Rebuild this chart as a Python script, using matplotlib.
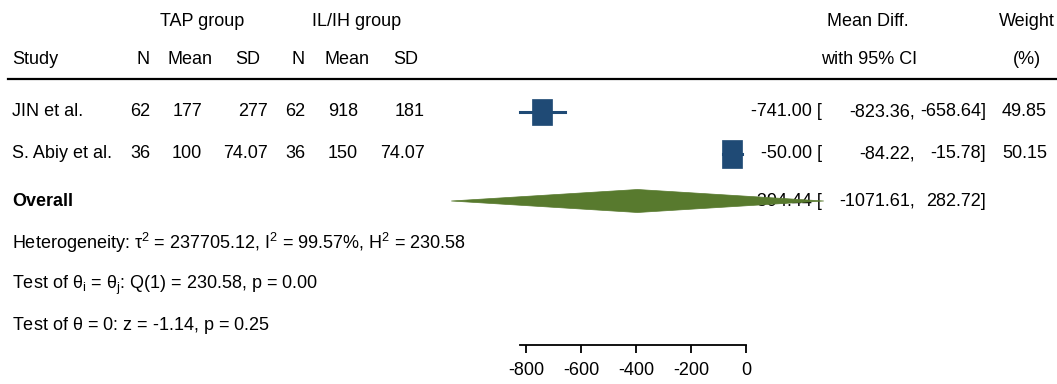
import matplotlib
matplotlib.use("Agg")
import matplotlib.pyplot as plt
from matplotlib import font_manager as fm
from matplotlib.patches import Rectangle, Polygon

# ---- data ----
studies = ["JIN et al.", "S. Abiy et al."]
tap_n = [62, 36]
tap_mean = ["177", "100"]
tap_sd = ["277", "74.07"]
il_n = [62, 36]
il_mean = ["918", "150"]
il_sd = ["181", "74.07"]
md = [-741.00, -50.00]
ci_lo = [-823.36, -84.22]
ci_hi = [-658.64, -15.78]
weights = [49.85, 50.15]
overall = (-394.44, -1071.61, 282.72)
het_text = r"Heterogeneity: $\mathregular{\tau^2}$ = 237705.12, $\mathregular{I^2}$ = 99.57%, $\mathregular{H^2}$ = 230.58"
test1_text = r"Test of $\mathregular{\theta_i}$ = $\mathregular{\theta_j}$: Q(1) = 230.58, p = 0.00"
test2_text = r"Test of $\mathregular{\theta}$ = 0: z = -1.14, p = 0.25"
xticks = [-800, -600, -400, -200, 0]

names = {f.name for f in fm.fontManager.ttflist}
FONT = "Liberation Sans Narrow" if "Liberation Sans Narrow" in names else "Liberation Sans"
plt.rcParams["font.family"] = [FONT, "DejaVu Sans"]
plt.rcParams["mathtext.fontset"] = "custom"
plt.rcParams["mathtext.rm"] = FONT
plt.rcParams["mathtext.it"] = FONT
FS = 16.0 if FONT == "Liberation Sans Narrow" else 13.0

W, H = 1057, 384
fig = plt.figure(figsize=(W / 100, H / 100), dpi=100)
axis_y = 345
ax = fig.add_axes([0, (H - axis_y) / H, 1, axis_y / H])
# x scale: 0 at pixel 746, 0.275 px per unit
ppu = 0.275
x0 = 746
ax.set_xlim(-x0 / ppu, (W - x0) / ppu)
ax.set_ylim(axis_y, 0)
for s in ["top", "right", "left"]:
    ax.spines[s].set_visible(False)
ax.spines["bottom"].set_bounds(min(ci_lo), 0)
ax.spines["bottom"].set_linewidth(1.3)
ax.set_yticks([])
ax.set_xticks(xticks)
ax.set_xticklabels([str(t) for t in xticks], fontsize=FS)
ax.tick_params(axis="x", length=6, width=1.3, pad=6)

def px(xp):
    return (xp - x0) / ppu

def txt(xp, y, s, ha="right", **kw):
    ax.text(px(xp), y, s, ha=ha, va="center", fontsize=FS, clip_on=False, **kw)

# header
txt(202, 22, "TAP group", ha="center")
txt(357, 22, "IL/IH group", ha="center")
txt(868, 22, "Mean Diff.", ha="center")
txt(1027, 22, "Weight", ha="center")
y_h = 60
txt(12, y_h, "Study", ha="left")
txt(150, y_h, "N")
txt(190, y_h, "Mean", ha="center")
txt(260, y_h, "SD")
txt(305, y_h, "N")
txt(347, y_h, "Mean", ha="center")
txt(418, y_h, "SD")
txt(869, y_h, "with 95% CI", ha="center")
txt(1027, y_h, "(%)", ha="center")
ax.plot([px(8), px(W)], [79, 79], color="black", lw=1.6, clip_on=False)

row_y = [112 + 42 * i for i in range(len(studies))]
for i, y in enumerate(row_y):
    txt(12, y, studies[i], ha="left")
    txt(150, y, str(tap_n[i]))
    txt(202, y, tap_mean[i])
    txt(268, y, tap_sd[i])
    txt(305, y, str(il_n[i]))
    txt(358, y, il_mean[i])
    txt(425, y, il_sd[i])
    txt(822, y, f"{md[i]:.2f} [")
    txt(915, y, f"{ci_lo[i]:.2f},")
    txt(986, y, f"{ci_hi[i]:.2f}]")
    txt(1047, y, f"{weights[i]:.2f}")
    ax.plot([ci_lo[i], ci_hi[i]], [y, y], color="#1f4a75", lw=2.2, zorder=3)
    sc = (weights[i] / 50.0) ** 0.5
    wd = 20 / ppu * sc
    ht = 27 * sc
    ax.add_patch(Rectangle((md[i] - wd / 2, y - ht / 2), wd, ht,
                           facecolor="#1f4a75", edgecolor="#1f4a75", lw=0.5, zorder=4))

oy = 201
txt(12, oy, "Overall", ha="left", fontweight="bold")
txt(822, oy, f"{overall[0]:.2f} [")
txt(915, oy, f"{overall[1]:.2f},")
txt(986, oy, f"{overall[2]:.2f}]")
dh = 11.5
ax.add_patch(Polygon([(overall[1], oy), (overall[0], oy - dh), (overall[2], oy),
                      (overall[0], oy + dh)], closed=True,
                     facecolor="#587a2e", edgecolor="#587a2e", lw=0.5, zorder=5,
                     clip_on=False))

txt(12, 243, het_text, ha="left")
txt(12, 285, test1_text, ha="left")
txt(12, 326, test2_text, ha="left")

fig.savefig("out.png", dpi=100)
